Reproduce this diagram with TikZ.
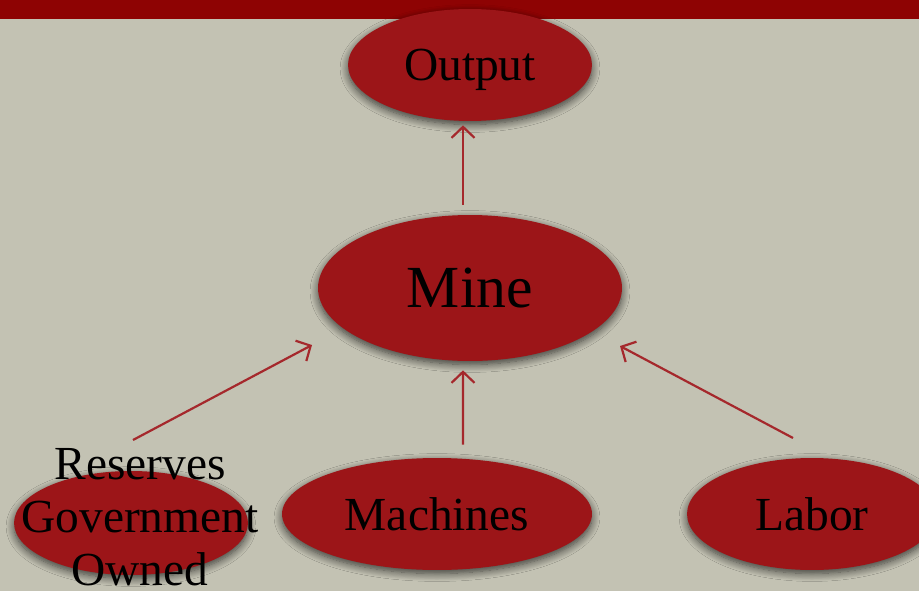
\documentclass[tikz,border=0pt]{standalone}
\usepackage{fontspec}
\setmainfont{Liberation Serif}
\usetikzlibrary{shapes.geometric,arrows.meta,shadows.blur}
\definecolor{paper}{HTML}{C3C2B3}
\definecolor{bar}{HTML}{8E0303}
\definecolor{blob}{HTML}{9C1518}
\definecolor{linkred}{HTML}{A5282C}

\begin{document}
\begin{tikzpicture}[x=0.02cm, y=-0.02cm,
    bubble/.style={ellipse, fill=blob, inner sep=0pt, font=\fontsize{27}{30}\selectfont,
      blur shadow={shadow xshift=0pt, shadow yshift=-2pt, shadow blur radius=4.5pt, shadow opacity=70, shadow blur steps=10}},
    conn/.style={draw=linkred, line width=1.25pt, -{Straight Barb[length=0.22cm,width=0.46cm]}}]
        \useasboundingbox (0,0) rectangle (919,591);
        \fill[paper] (0,0) rectangle (919,591);
        \fill[bar] (0,0) rectangle (919,19);

        \node (output) [bubble, minimum width=4.88cm, minimum height=2.24cm, text depth=0pt] at (470,65) {Output};
        \node (mine) [bubble, minimum width=6.08cm, minimum height=2.92cm, font=\fontsize{34}{40}\selectfont] at (470,288) {Mine};
        \node (reserves) [bubble, minimum width=4.68cm, minimum height=2.08cm] at (131,523) {};
        \node (machines) [bubble, minimum width=6.2cm, minimum height=2.24cm] at (437,514) {Machines};
        \node (labor) [bubble, minimum width=5cm, minimum height=2.24cm] at (812,514) {Labor};
        \node (resname) [align=center, inner sep=0pt, font=\fontsize{27}{30}\selectfont] at (140,517) {Reserves\\Government\\Owned};

        \draw[conn, shorten <=0.2cm, shorten >=0.08cm] ([xshift=-0.14cm]mine.north) -- ([xshift=-0.14cm]output.south);
        \draw[conn, shorten <=0.26cm, shorten >=0.18cm] ([xshift=0.52cm]machines.north) -- ([xshift=-0.14cm]mine.south);
        \draw[conn] ([shift={(-7,-77)}]resname.center) -- ([shift={(-158,57)}]mine.center);
        \draw[conn] ([shift={(-19,-76)}]labor.center) -- ([shift={(150,58)}]mine.center);
    \end{tikzpicture}
\end{document}
